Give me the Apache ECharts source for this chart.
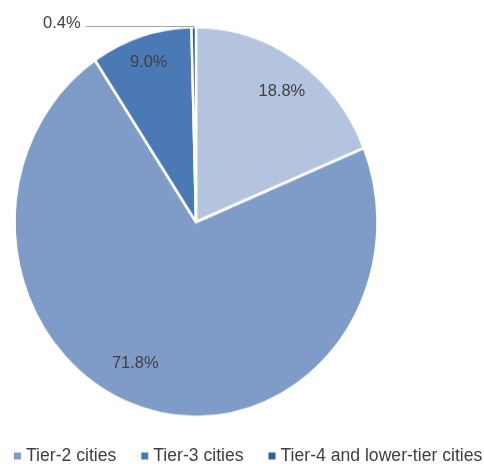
<!DOCTYPE html>
<html>
<head>
<meta charset="utf-8">
<script src="https://cdn.jsdelivr.net/npm/echarts@6/dist/echarts.min.js"></script>
<style>
  html, body { margin: 0; padding: 0; background: #ffffff; }
  #wrap { position: relative; width: 484px; height: 464px; overflow: hidden; }
  #pie, #ov { position: absolute; left: 0; top: 0; width: 484px; height: 464px; }
</style>
</head>
<body>
<div id="wrap">
  <div id="pie"></div>
  <div id="ov"></div>
</div>
<script>
// ---- data ----
const categories = ['Tier-1 cities', 'Tier-2 cities', 'Tier-3 cities', 'Tier-4 and lower-tier cities'];
const shares = [18.8, 71.8, 9.0, 0.4];
const legendNames = ['Tier-2 cities', 'Tier-3 cities', 'Tier-4 and lower-tier cities'];
const colors = ['#b4c3de', '#7f9cc8', '#4a79b5', '#315e98'];

// ---- geometry (the reference pie is an ellipse) ----
const CX = 196, CY = 222, RX = 181.5, RY = 195;
// label placement: radial fraction and angular nudge (deg) for inside labels
const labelPlace = [
  { k: 0.82, turn: 1.4 },
  { k: 0.80, turn: 7.8 },
  { k: 0.86, turn: 0 },
  null
];

const total = shares.reduce((a, b) => a + b, 0);
const midAngles = [];
(function () {
  let acc = 0;
  shares.forEach(v => { midAngles.push((acc + v / 2) / total * 360); acc += v; });
})();
function ellPoint(deg, k) {
  const t = deg * Math.PI / 180;
  return [CX + k * RX * Math.sin(t), CY - k * RY * Math.cos(t)];
}

const pieData = categories.map((n, i) => ({ name: n, value: shares[i], itemStyle: { color: colors[i] } }));

// ---- layer 1: the pie slices, stretched vertically into an ellipse ----
const pieEl = document.getElementById('pie');
pieEl.style.transformOrigin = CX + 'px ' + CY + 'px';
pieEl.style.transform = 'scaleY(' + (RY / RX) + ')';
const c1 = echarts.init(pieEl, null, { renderer: 'canvas' });
c1.setOption({
  animation: false,
  series: [{
    type: 'pie',
    center: [CX, CY],
    radius: [0, RX],
    startAngle: 90,
    clockwise: true,
    avoidLabelOverlap: false,
    label: { show: false },
    labelLine: { show: false },
    itemStyle: { borderColor: '#ffffff', borderWidth: 2.5 },
    data: pieData
  }]
});

// ---- layer 2: labels and legend (unstretched text) ----
const c2 = echarts.init(document.getElementById('ov'), null, { renderer: 'canvas' });
c2.setOption({
  animation: false,
  legend: {
    data: legendNames,
    left: 14,
    top: 447,
    padding: 0,
    icon: 'rect',
    itemWidth: 7,
    itemHeight: 7,
    itemGap: 25,
    itemStyle: { opacity: 1 },
    textStyle: { fontFamily: 'Liberation Sans', fontSize: 17.6, color: '#404040', lineHeight: 18 },
    selectedMode: false
  },
  series: [{
    type: 'pie',
    center: [CX, CY],
    radius: [0, RX],
    startAngle: 90,
    clockwise: true,
    avoidLabelOverlap: false,
    silent: true,
    itemStyle: { opacity: 0 },
    label: {
      show: true,
      position: 'inside',
      opacity: 1,
      formatter: p => p.value.toFixed(1) + '%',
      fontFamily: 'Liberation Sans',
      fontSize: 16.5,
      color: '#404040'
    },
    labelLine: { show: false },
    labelLayout: function (params) {
      const i = params.dataIndex;
      const pl = labelPlace[i];
      if (pl) {
        const p = ellPoint(midAngles[i] + pl.turn, pl.k);
        return { x: p[0], y: p[1], align: 'center', verticalAlign: 'middle' };
      }
      const e = ellPoint(midAngles[i], 1);
      const yLine = e[1] - 0.5;
      const xEnd = e[0] - 108;
      return {
        x: xEnd - 5, y: yLine - 3, align: 'right', verticalAlign: 'middle',
        labelLinePoints: [[e[0], e[1] + 1], [e[0], yLine], [xEnd, yLine]]
      };
    },
    data: pieData.map((d, i) => i === 3 ? Object.assign({}, d, {
      label: { position: 'outside' },
      labelLine: { show: true, length: 5, length2: 5, lineStyle: { color: '#a6a6a6', width: 1.2, opacity: 1 } }
    }) : d)
  }]
});
</script>
</body>
</html>
